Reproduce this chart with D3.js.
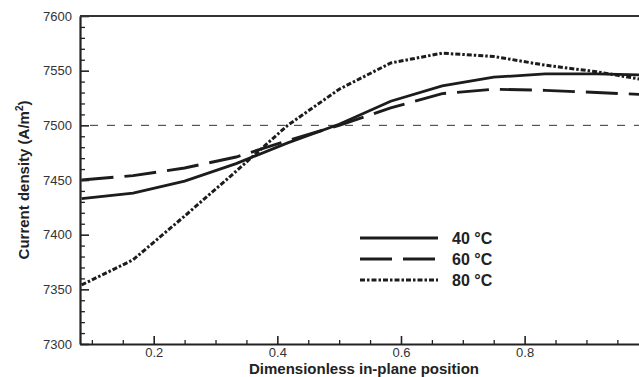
<!DOCTYPE html>
<html>
<head>
<meta charset="utf-8">
<script src="https://cdn.jsdelivr.net/npm/d3@7"></script>
<style>
  body { margin: 0; background: #fff; }
  svg { display: block; }
  .axis text { font-family: "Liberation Sans", Arial, sans-serif; font-size: 13px; fill: #333; }
  .axis path, .axis line { stroke: #222; }
</style>
</head>
<body>
<svg id="chart" width="639" height="377"></svg>
<script>
// Data: position in twelfths of the plate, current density per temperature
var positions = [1/12, 2/12, 3/12, 4/12, 5/12, 6/12, 7/12, 8/12, 9/12, 10/12, 11/12, 12/12];
var t40 = [7433, 7438, 7449, 7465, 7484, 7501, 7522, 7536, 7544, 7547, 7547, 7546];
var t60 = [7450, 7454, 7461, 7471, 7486, 7500, 7516, 7529, 7533, 7532, 7530, 7528];
var t80 = [7354, 7377, 7417, 7458, 7500, 7533, 7557, 7566, 7563, 7555, 7549, 7541];
var seriesNames = ['40 \u00B0C', '60 \u00B0C', '80 \u00B0C'];
var xMajor = [0.2, 0.4, 0.6, 0.8];
var yMajor = [7300, 7350, 7400, 7450, 7500, 7550, 7600];
var refLevel = 7500;

var svg = d3.select('#chart');
var pLeft = 80, pTop = 16, pRight = 639, pBottom = 344;

var x = d3.scaleLinear().domain([0.0808, 0.985]).range([pLeft, pRight]);
var y = d3.scaleLinear().domain([7300, 7600]).range([pBottom, pTop]);

// clip for plot area
svg.append('clipPath').attr('id', 'plotclip')
  .append('rect').attr('x', pLeft).attr('y', pTop).attr('width', pRight - pLeft).attr('height', pBottom - pTop);

var plot = svg.append('g').attr('clip-path', 'url(#plotclip)');

// reference line
plot.append('line')
  .attr('x1', pLeft).attr('x2', pRight)
  .attr('y1', y(refLevel)).attr('y2', y(refLevel))
  .attr('stroke', '#333').attr('stroke-width', 1)
  .attr('stroke-dasharray', '8,9')
  .attr('stroke-dashoffset', -10);

var styles = [
  { dash: null, width: 2.8 },
  { dash: '32,11', width: 2.9 },
  { dash: '5,2,2.5,2', width: 3 }
];
var allSeries = [t40, t60, t80];

var line = d3.line()
  .x(function(d) { return x(d[0]); })
  .y(function(d) { return y(d[1]); });

allSeries.forEach(function(vals, i) {
  var pts = positions.map(function(p, j) { return [p, vals[j]]; });
  plot.append('path')
    .datum(pts)
    .attr('d', line)
    .attr('fill', 'none')
    .attr('stroke', '#1c1c1c')
    .attr('stroke-width', styles[i].width)
    .attr('stroke-dasharray', styles[i].dash);
});

// minor ticks
var xMinor = d3.range(0.1, 0.99, 0.05).filter(function(v) {
  return !xMajor.some(function(m) { return Math.abs(m - v) < 1e-6; });
});
var yMinor = d3.range(7310, 7600, 10).filter(function(v) { return v % 50 !== 0; });

svg.append('g').attr('class', 'axis')
  .attr('transform', 'translate(0,' + pBottom + ')')
  .call(d3.axisBottom(x).tickValues(xMinor).tickSize(-4).tickSizeOuter(0).tickFormat(''))
  .call(function(g) { g.select('.domain').remove(); g.selectAll('line').attr('stroke-width', 1.3); });

svg.append('g').attr('class', 'axis')
  .attr('transform', 'translate(' + pLeft + ',0)')
  .call(d3.axisLeft(y).tickValues(yMinor).tickSize(-5).tickSizeOuter(0).tickFormat(''))
  .call(function(g) { g.select('.domain').remove(); g.selectAll('line').attr('stroke-width', 1.3); });

// major axes
svg.append('g').attr('class', 'axis')
  .attr('transform', 'translate(0,' + pBottom + ')')
  .call(d3.axisBottom(x).tickValues(xMajor).tickSize(-8).tickSizeOuter(0).tickPadding(4).tickFormat(d3.format('.1f')))
  .call(function(g) {
    g.select('.domain').attr('stroke-width', 2.2);
    g.selectAll('line').attr('stroke-width', 1.6);
  });

svg.append('g').attr('class', 'axis')
  .attr('transform', 'translate(' + pLeft + ',0)')
  .call(d3.axisLeft(y).tickValues(yMajor).tickSize(-9).tickSizeOuter(0).tickPadding(8).tickFormat(d3.format('d')))
  .call(function(g) {
    g.select('.domain').attr('stroke-width', 2.2);
    g.selectAll('line').attr('stroke-width', 1.6);
  });

// top frame
svg.append('line')
  .attr('x1', pLeft).attr('x2', pRight).attr('y1', pTop).attr('y2', pTop)
  .attr('stroke', '#333').attr('stroke-width', 1.8);

// axis titles
svg.append('text')
  .attr('x', 364).attr('y', 374)
  .attr('text-anchor', 'middle')
  .style('font-family', '"Liberation Sans", Arial, sans-serif')
  .style('font-size', '15px').style('font-weight', 'bold').style('fill', '#222')
  .text('Dimensionless in-plane position');

var yt = svg.append('text')
  .attr('transform', 'translate(29,180) rotate(-90)')
  .attr('text-anchor', 'middle')
  .style('font-family', '"Liberation Sans", Arial, sans-serif')
  .style('font-size', '15px').style('font-weight', 'bold').style('fill', '#222');
yt.append('tspan').text('Current density (A/m');
yt.append('tspan').attr('dy', -6).style('font-size', '10px').text('2');
yt.append('tspan').attr('dy', 6).text(')');

// legend
var legend = svg.append('g').attr('transform', 'translate(360,238)');
seriesNames.forEach(function(name, i) {
  var row = legend.append('g').attr('transform', 'translate(0,' + (i * 21) + ')');
  row.append('line')
    .attr('x1', 0).attr('x2', 78).attr('y1', 0).attr('y2', 0)
    .attr('stroke', '#1c1c1c')
    .attr('stroke-width', styles[i].width)
    .attr('stroke-dasharray', styles[i].dash);
  row.append('text')
    .attr('x', 92).attr('y', 6)
    .style('font-family', '"Liberation Sans", Arial, sans-serif')
    .style('font-size', '16px').style('font-weight', 'bold').style('fill', '#222')
    .text(name);
});
</script>
</body>
</html>
